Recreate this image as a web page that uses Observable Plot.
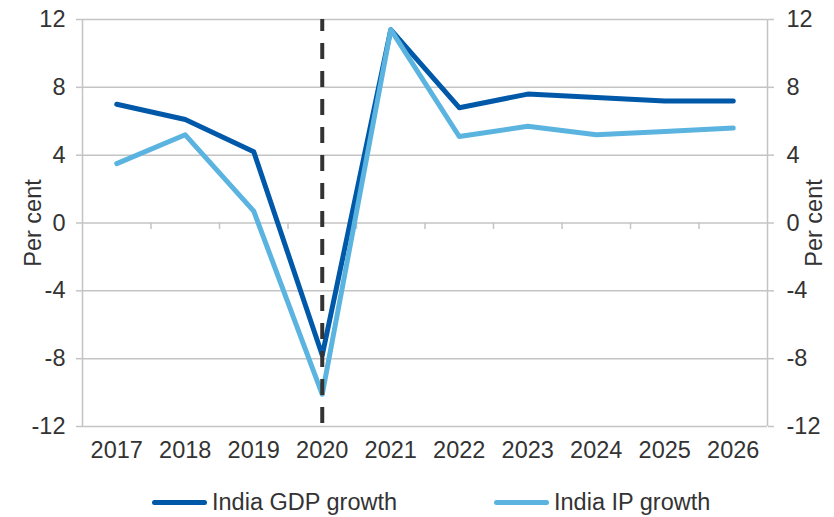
<!DOCTYPE html>
<html><head><meta charset="utf-8">
<script src="https://cdn.jsdelivr.net/npm/d3@7"></script>
<script src="https://cdn.jsdelivr.net/npm/@observablehq/plot@0.6"></script>
<style>
body{margin:0;background:#fff;font-family:"Liberation Sans",Arial,sans-serif;}
#wrap{position:relative;width:834px;height:517px;}
.leg{position:absolute;top:489px;font-size:23.5px;color:#333;display:flex;align-items:center;white-space:nowrap;}
.sw{display:inline-block;width:55px;height:5px;border-radius:3px;margin-right:5px;}
</style></head>
<body><div id="wrap"></div>
<script>
const years = [2017,2018,2019,2020,2021,2022,2023,2024,2025,2026];
const gdpGrowth = [7.0,6.1,4.2,-7.8,11.4,6.8,7.6,7.4,7.2,7.2];
const ipGrowth = [3.5,5.2,0.7,-10.1,11.4,5.1,5.7,5.2,5.4,5.6];
const yTicks = [-12,-8,-4,0,4,8,12];
const seriesNames = ["India GDP growth","India IP growth"];
const colors = ["#0058A8","#5BB4E0"];
const markerYear = 2020;

const gdp = years.map((y,i)=>({year:y,value:gdpGrowth[i]}));
const ip = years.map((y,i)=>({year:y,value:ipGrowth[i]}));
const bounds = d3.range(years[0]-0.5, years[years.length-1]+1, 1);
const inner = bounds.slice(1,-1);
const grid = "#c4c4c4";
const txt = "#333";
const fmtY = d => String(d);

const chart = Plot.plot({
  width:834, height:470,
  marginLeft:82, marginRight:67, marginTop:19, marginBottom:44,
  style:{fontFamily:"'Liberation Sans', Arial, sans-serif", fontSize:"23.5px", color:txt, background:"#fff"},
  x:{type:"linear", domain:[bounds[0], bounds[bounds.length-1]]},
  y:{domain:[-12,12]},
  marks:[
    Plot.ruleY(yTicks,{stroke:grid, strokeWidth:1.5}),
    Plot.ruleX([bounds[0], bounds[bounds.length-1]],{stroke:grid, strokeWidth:1.5}),
    Plot.ruleX(inner,{y1:0, y2:-0.38, stroke:grid, strokeWidth:1.5}),
    Plot.axisX(years,{tickSize:0, tickPadding:15, tickFormat:d=>String(d), fontSize:23.5, fill:txt, label:null}),
    Plot.axisY(yTicks,{anchor:"left", tickSize:6, tickPadding:11, stroke:grid, strokeWidth:1.5, fontSize:23.5, fill:txt, tickFormat:fmtY,
      label:"Per cent", labelAnchor:"center", labelArrow:"none", labelOffset:58}),
    Plot.axisY(yTicks,{anchor:"right", tickSize:6, tickPadding:13, stroke:grid, strokeWidth:1.5, fontSize:23.5, fill:txt, tickFormat:fmtY,
      label:"Per cent", labelAnchor:"center", labelArrow:"none", labelOffset:54}),
    Plot.line(gdp,{x:"year", y:"value", stroke:colors[0], strokeWidth:5, strokeLinejoin:"round", strokeLinecap:"round"}),
    Plot.line(ip,{x:"year", y:"value", stroke:colors[1], strokeWidth:5, strokeLinejoin:"round", strokeLinecap:"round"}),
    Plot.ruleX([markerYear],{y1:12, y2:-12, stroke:"#333", strokeWidth:4, strokeDasharray:"16 12", strokeDashoffset:4})
  ]
});
const wrap = document.getElementById("wrap");
wrap.appendChild(chart);
const legPos = [152, 494];
seriesNames.forEach((n,i)=>{
  const d = document.createElement("div");
  d.className="leg"; d.style.left=legPos[i]+"px";
  d.innerHTML = `<span class="sw" style="background:${colors[i]}"></span>${n}`;
  wrap.appendChild(d);
});
</script></body></html>
